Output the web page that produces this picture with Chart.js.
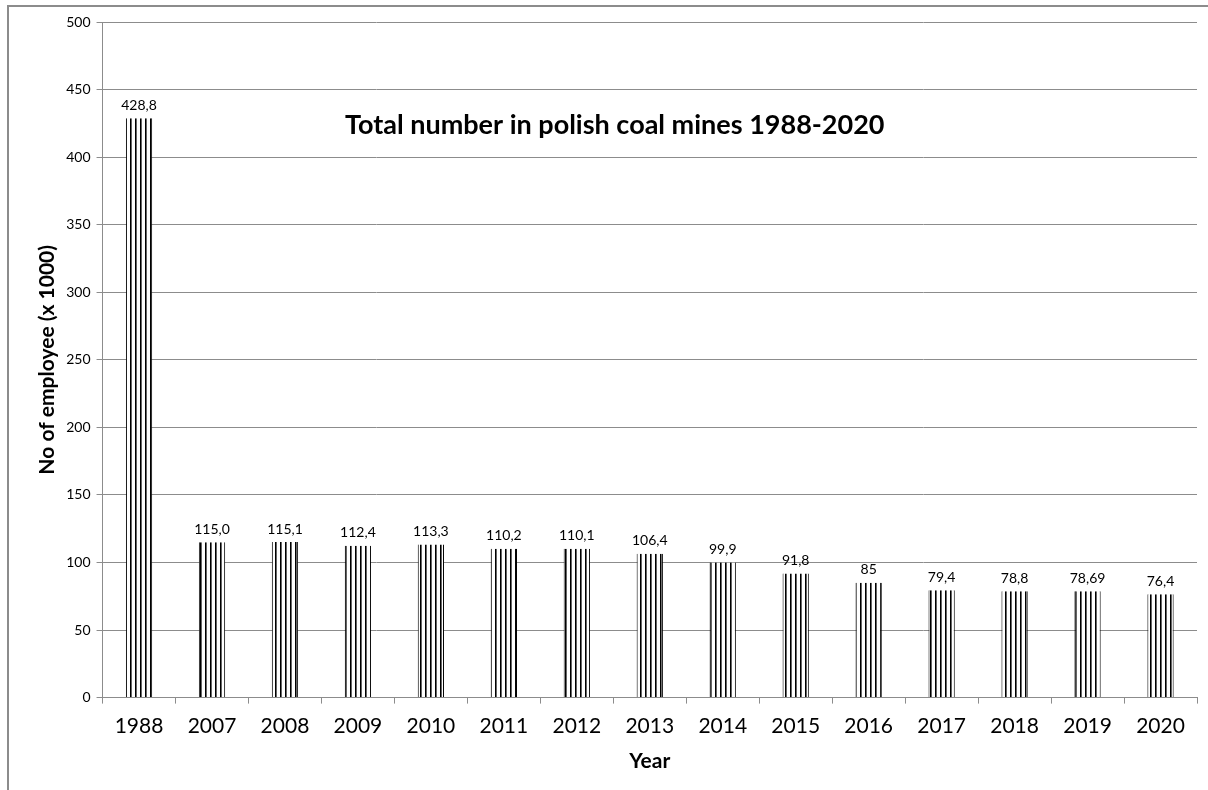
<!DOCTYPE html>
<html>
<head>
<meta charset="utf-8">
<script src="https://cdn.jsdelivr.net/npm/chart.js@4/dist/chart.umd.min.js"></script>
<style>
  body { margin: 0; background: #fff; }
  #frame { position: absolute; left: 0; top: 0; width: 1208px; height: 790px; }
  #frame:before { content: ""; position: absolute; left: 7px; top: 5px; right: 0; bottom: 0;
    border-left: 2px solid #8c8c8c; border-top: 2px solid #8c8c8c; pointer-events: none; }
</style>
</head>
<body>
<div id="frame"><canvas id="coalChart" width="1208" height="790"></canvas></div>
<script>
const years = ["1988", "2007", "2008", "2009", "2010", "2011", "2012", "2013", "2014", "2015", "2016", "2017", "2018", "2019", "2020"];
const employees = [428.8, 115.0, 115.1, 112.4, 113.3, 110.2, 110.1, 106.4, 99.9, 91.8, 85, 79.4, 78.8, 78.69, 76.4];
const valueLabels = ["428,8", "115,0", "115,1", "112,4", "113,3", "110,2", "110,1", "106,4", "99,9", "91,8", "85", "79,4", "78,8", "78,69", "76,4"];
const chartTitle = "Total number in polish coal mines 1988-2020";

const FONT = "Lato, 'Open Sans', sans-serif";

// vertical stripe fill like the excel pattern
function stripes() {
  const c = document.createElement("canvas");
  c.width = 5; c.height = 4;
  const g = c.getContext("2d");
  g.fillStyle = "#fff";
  g.fillRect(0, 0, 5, 4);
  g.fillStyle = "#000";
  g.fillRect(0, 0, 1, 4);
  g.fillStyle = "#666";
  g.fillRect(1, 0, 1, 4);
  return g.createPattern(c, "repeat");
}

const barLabels = {
  id: "barLabels",
  afterDatasetsDraw(chart) {
    const ctx = chart.ctx;
    const meta = chart.getDatasetMeta(0);
    ctx.save();
    ctx.fillStyle = "#000";
    ctx.font = "14px " + FONT;
    ctx.textAlign = "center";
    ctx.textBaseline = "bottom";
    meta.data.forEach((bar, i) => {
      ctx.fillText(valueLabels[i], bar.x, bar.y - 6);
    });
    // title sits inside the plot
    const a = chart.chartArea;
    ctx.font = "bold 27px " + FONT;
    ctx.textBaseline = "middle";
    ctx.fillText(chartTitle, a.left + (a.right - a.left) * 0.468, a.top + 103);
    ctx.restore();
  }
};

const ctx = document.getElementById("coalChart").getContext("2d");
const chart = new Chart(ctx, {
  type: "bar",
  data: {
    labels: years,
    datasets: [{
      data: employees,
      backgroundColor: stripes(),
      borderColor: "#000",
      borderWidth: { left: 1, right: 1, top: 0, bottom: 0 },
      borderSkipped: false,
      barPercentage: 0.36,
      categoryPercentage: 1
    }]
  },
  options: {
    responsive: false,
    animation: false,
    layout: { padding: { left: 31, right: 11, top: 22, bottom: 12 } },
    plugins: {
      legend: { display: false },
      tooltip: { enabled: false }
    },
    scales: {
      x: {
        grid: { display: true, drawOnChartArea: false, offset: true, color: "#8c8c8c", tickLength: 6 },
        border: { color: "#8c8c8c" },
        ticks: { color: "#000", font: { family: FONT, size: 21 }, padding: 10 },
        title: { display: true, text: "Year", color: "#000", font: { family: FONT, size: 21, weight: "bold" }, padding: { top: 0 } }
      },
      y: {
        min: 0,
        max: 500,
        ticks: { stepSize: 50, color: "#000", font: { family: FONT, size: 14 }, padding: 6 },
        grid: { color: "#8c8c8c", tickLength: 6 },
        border: { color: "#8c8c8c" },
        title: { display: true, text: "No of employee (x 1000)", color: "#000", font: { family: FONT, size: 21, weight: "bold" }, padding: { bottom: 0 } }
      }
    }
  },
  plugins: [barLabels]
});
</script>
</body>
</html>
